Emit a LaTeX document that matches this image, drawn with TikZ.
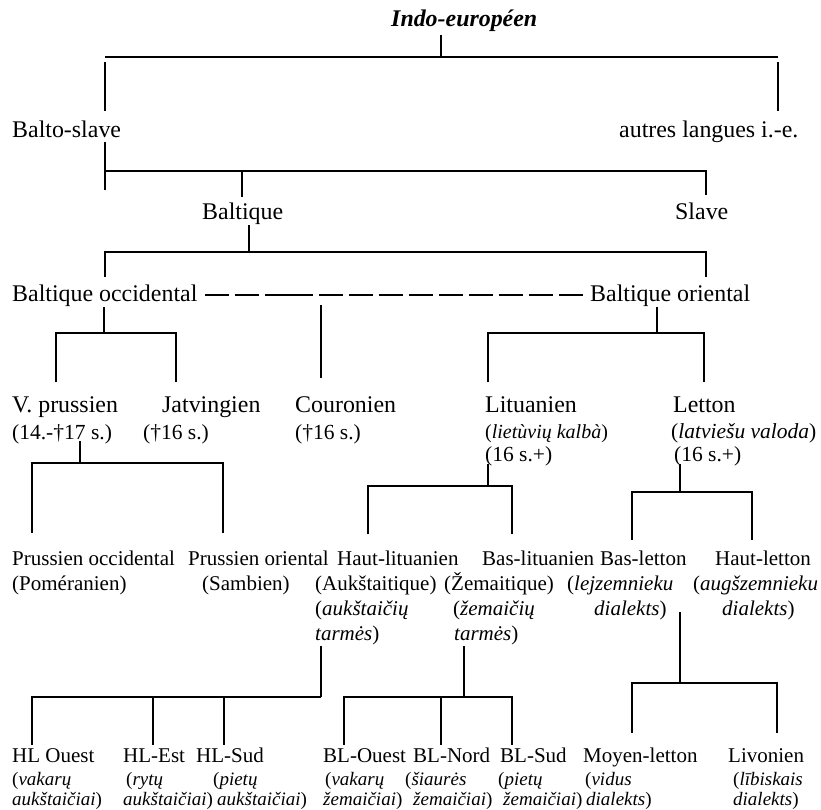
\documentclass[tikz,border=0pt]{standalone}
\usepackage{fontspec}
\setmainfont{Liberation Serif}
\begin{document}
\begin{tikzpicture}[x=1pt,y=-1pt,
  lbl/.style={anchor=base west, inner sep=0pt, font=\fontsize{23.9}{28}\selectfont},
  sub/.style={anchor=base west, inner sep=0pt, font=\fontsize{21.5}{25}\selectfont},
  sm/.style={anchor=base west, inner sep=0pt, font=\fontsize{21}{25}\selectfont},
  xs/.style={anchor=base west, inner sep=0pt, font=\fontsize{19}{22}\selectfont},
  br/.style={line width=2.2pt},
  dashline/.style={line width=1.3pt, dash pattern=on 24pt off 6pt on 24pt off 6pt on 48pt off 6pt on 24pt off 6pt on 24pt off 6pt on 24pt off 6pt on 24pt off 6pt on 24pt off 6pt on 24pt off 6pt on 24pt off 6pt on 24pt off 6pt on 24pt off 12pt}]
\useasboundingbox (0,0) rectangle (821,809);

% ---------- texts ----------
\node[lbl] (ie) at (391,26) {\textbf{\textit{Indo-européen}}};
\node[lbl] (bs) at (12,137) {Balto-slave};
\node[lbl] (autres) at (619,137) {autres langues i.-e.};
\node[lbl] (balt) at (202,219) {Baltique};
\node[lbl] (slave) at (675,219) {Slave};
\node[lbl] (bocc) at (12,301) {Baltique occidental};
\node[lbl] (bori) at (590,301) {Baltique oriental};

\node[lbl] (vpr) at (12,412) {V. prussien};
\node[sub] (vpr2) at (12,439) {(14.-†17 s.)};
\node[lbl] (jat) at (162,412) {Jatvingien};
\node[sub] (jat2) at (143,439) {(†16 s.)};
\node[lbl] (cou) at (295,412) {Couronien};
\node[sub] (cou2) at (295,439) {(†16 s.)};
\node[lbl] (lit) at (485,412) {Lituanien};
\node[sub, font=\fontsize{20}{24}\selectfont] (lit2) at (485,438) {(\textit{lietùvių kalbà})};
\node[sub] (lit3) at (485,461) {(16 s.+)};
\node[lbl] (let) at (673,412) {Letton};
\node[sub] (let2) at (671,438) {(\textit{latviešu valoda})};
\node[sub] (let3) at (674,461) {(16 s.+)};

\node[sm] (pocc) at (12,565) {Prussien occidental};
\node[sm] (pocc2) at (12,590) {(Poméranien)};
\node[sm] (pori) at (188,565) {Prussien oriental};
\node[sm] (pori2) at (202,590) {(Sambien)};
\node[sm] (hlit) at (337,565) {Haut-lituanien};
\node[sm] (hlit2) at (315,590) {(Aukštaitique)};
\node[sm] (hlit3) at (315,615) {(\textit{aukštaičių}};
\node[sm] (hlit4) at (315,640) {\textit{tarmės})};
\node[sm] (blit) at (482,565) {Bas-lituanien};
\node[sm] (blit2) at (444,590) {(Žemaitique)};
\node[sm] (blit3) at (453,615) {(\textit{žemaičių}};
\node[sm] (blit4) at (454,640) {\textit{tarmės})};
\node[sm] (blet) at (600,565) {Bas-letton};
\node[sm] (blet2) at (567,590) {(\textit{lejzemnieku}};
\node[sm] (blet3) at (594,615) {\textit{dialekts})};
\node[sm] (hlet) at (715,565) {Haut-letton};
\node[sm] (hlet2) at (693,590) {(\textit{augšzemnieku}};
\node[sm] (hlet3) at (722,615) {\textit{dialekts})};

\node[sm] (hlo) at (12,762) {HL Ouest};
\node[xs] (hlo2) at (12,785) {(\textit{vakarų}};
\node[xs] (hlo3) at (12,805) {\textit{aukštaičiai})};
\node[sm] (hle) at (123,762) {HL-Est};
\node[xs] (hle2) at (126,785) {(\textit{rytų}};
\node[xs] (hle3) at (123,805) {\textit{aukštaičiai})};
\node[sm] (hls) at (196,762) {HL-Sud};
\node[xs] (hls2) at (213,785) {(\textit{pietų}};
\node[xs] (hls3) at (217,805) {\textit{aukštaičiai})};
\node[sm] (blo) at (323,762) {BL-Ouest};
\node[xs] (blo2) at (325,785) {(\textit{vakarų}};
\node[xs] (blo3) at (323,805) {\textit{žemaičiai})};
\node[sm] (bln) at (413,762) {BL-Nord};
\node[xs] (bln2) at (405,785) {(\textit{šiaurės}};
\node[xs] (bln3) at (413,805) {\textit{žemaičiai})};
\node[sm] (bls) at (500,762) {BL-Sud};
\node[xs] (bls2) at (498,785) {(\textit{pietų}};
\node[xs] (bls3) at (503,805) {\textit{žemaičiai})};
\node[sm] (mlet) at (583,762) {Moyen-letton};
\node[xs] (mlet2) at (585,785) {(\textit{vidus}};
\node[xs] (mlet3) at (586,805) {\textit{dialekts})};
\node[sm] (liv) at (728,762) {Livonien};
\node[xs] (liv2) at (733,785) {(\textit{lībiskais}};
\node[xs] (liv3) at (733,805) {\textit{dialekts})};

% ---------- connectors ----------
% Indo-europeen
\coordinate (ieS) at (441,35); \coordinate (ieB) at (441,57);
\coordinate (ieL) at (105,57); \coordinate (ieR) at (778,57);
\coordinate (bsT) at (105,62); \coordinate (bsE) at (105,111);
\coordinate (auT) at (778,62); \coordinate (auE) at (778,111);
\draw[br] (ieS) -- (ieB);
\draw[br] (ieL) -- (ieR);
\draw[br] (bsT) -- (bsE);
\draw[br] (auT) -- (auE);
% Balto-slave
\coordinate (bsS) at (105,142); \coordinate (bsD) at (105,190);
\coordinate (bsB) at (105,171); \coordinate (slB) at (706,171);
\coordinate (btB) at (242,171); \coordinate (btE) at (242,197);
\coordinate (slE) at (706,195);
\draw[br] (bsS) -- (bsD);
\draw[br] (bsB) -- (slB) -- (slE);
\draw[br] (btB) -- (btE);
% Baltique
\coordinate (btS) at (249,225); \coordinate (btJ) at (249,252);
\coordinate (boT) at (105,277); \coordinate (boB) at (105,252);
\coordinate (brB) at (706,252); \coordinate (brT) at (706,277);
\draw[br] (btS) -- (btJ);
\draw[br] (boT) -- (boB) -- (brB) -- (brT);
% dashed link between the two Baltic branches
\coordinate (dA) at (205,295); \coordinate (dB) at (583,295);
\draw[dashline] (dA) -- (dB);
% Baltique occidental
\coordinate (woS) at (104,307); \coordinate (woJ) at (104,333);
\coordinate (vpT) at (56,382); \coordinate (vpB) at (56,333);
\coordinate (jtB) at (176,333); \coordinate (jtT) at (176,382);
\draw[br] (woS) -- (woJ);
\draw[br] (vpT) -- (vpB) -- (jtB) -- (jtT);
\coordinate (cuS) at (321,305); \coordinate (cuE) at (321,378);
\draw[br] (cuS) -- (cuE);
% Baltique oriental
\coordinate (eoS) at (657,307); \coordinate (eoJ) at (657,333);
\coordinate (ltT) at (488,382); \coordinate (ltB) at (488,333);
\coordinate (lvB) at (704,333); \coordinate (lvT) at (704,382);
\draw[br] (eoS) -- (eoJ);
\draw[br] (ltT) -- (ltB) -- (lvB) -- (lvT);
% V. prussien
\coordinate (vpS) at (80,441); \coordinate (vpJ) at (80,463);
\coordinate (poT) at (32,533); \coordinate (poB) at (32,463);
\coordinate (prB) at (223,463); \coordinate (prT) at (223,533);
\draw[br] (vpS) -- (vpJ);
\draw[br] (poT) -- (poB) -- (prB) -- (prT);
% Lituanien
\coordinate (liS) at (488,464); \coordinate (liJ) at (488,486);
\coordinate (hlT) at (368,534); \coordinate (hlB) at (368,486);
\coordinate (blB) at (512,486); \coordinate (blT) at (512,534);
\draw[br] (liS) -- (liJ);
\draw[br] (hlT) -- (hlB) -- (blB) -- (blT);
% Letton
\coordinate (leS) at (680,464); \coordinate (leJ) at (680,492);
\coordinate (bleT) at (632,540); \coordinate (bleB) at (632,492);
\coordinate (hleB) at (752,492); \coordinate (hleT) at (752,540);
\draw[br] (leS) -- (leJ);
\draw[br] (bleT) -- (bleB) -- (hleB) -- (hleT);
% Haut-lituanien
\coordinate (haS) at (321,646); \coordinate (haJ) at (321,697);
\coordinate (hoT) at (32,745); \coordinate (hoB) at (32,697);
\coordinate (heB) at (153,697); \coordinate (heT) at (153,745);
\coordinate (hsB) at (224,697); \coordinate (hsT) at (224,745);
\draw[br] (haS) -- (haJ);
\draw[br] (hoT) -- (hoB) -- (haJ);
\draw[br] (heB) -- (heT);
\draw[br] (hsB) -- (hsT);
% Bas-lituanien
\coordinate (baS) at (464,646); \coordinate (baJ) at (464,697);
\coordinate (boOT) at (344,745); \coordinate (boOB) at (344,697);
\coordinate (bnB) at (441,697); \coordinate (bnT) at (441,745);
\coordinate (bsuB) at (512,697); \coordinate (bsuT) at (512,745);
\draw[br] (baS) -- (baJ);
\draw[br] (boOT) -- (boOB) -- (bsuB) -- (bsuT);
\draw[br] (bnB) -- (bnT);
% Bas-letton
\coordinate (bxS) at (680,612); \coordinate (bxJ) at (680,683);
\coordinate (mlT) at (632,733); \coordinate (mlB) at (632,683);
\coordinate (lvoB) at (777,683); \coordinate (lvoT) at (777,733);
\draw[br] (bxS) -- (bxJ);
\draw[br] (mlT) -- (mlB) -- (lvoB) -- (lvoT);
\end{tikzpicture}
\end{document}
